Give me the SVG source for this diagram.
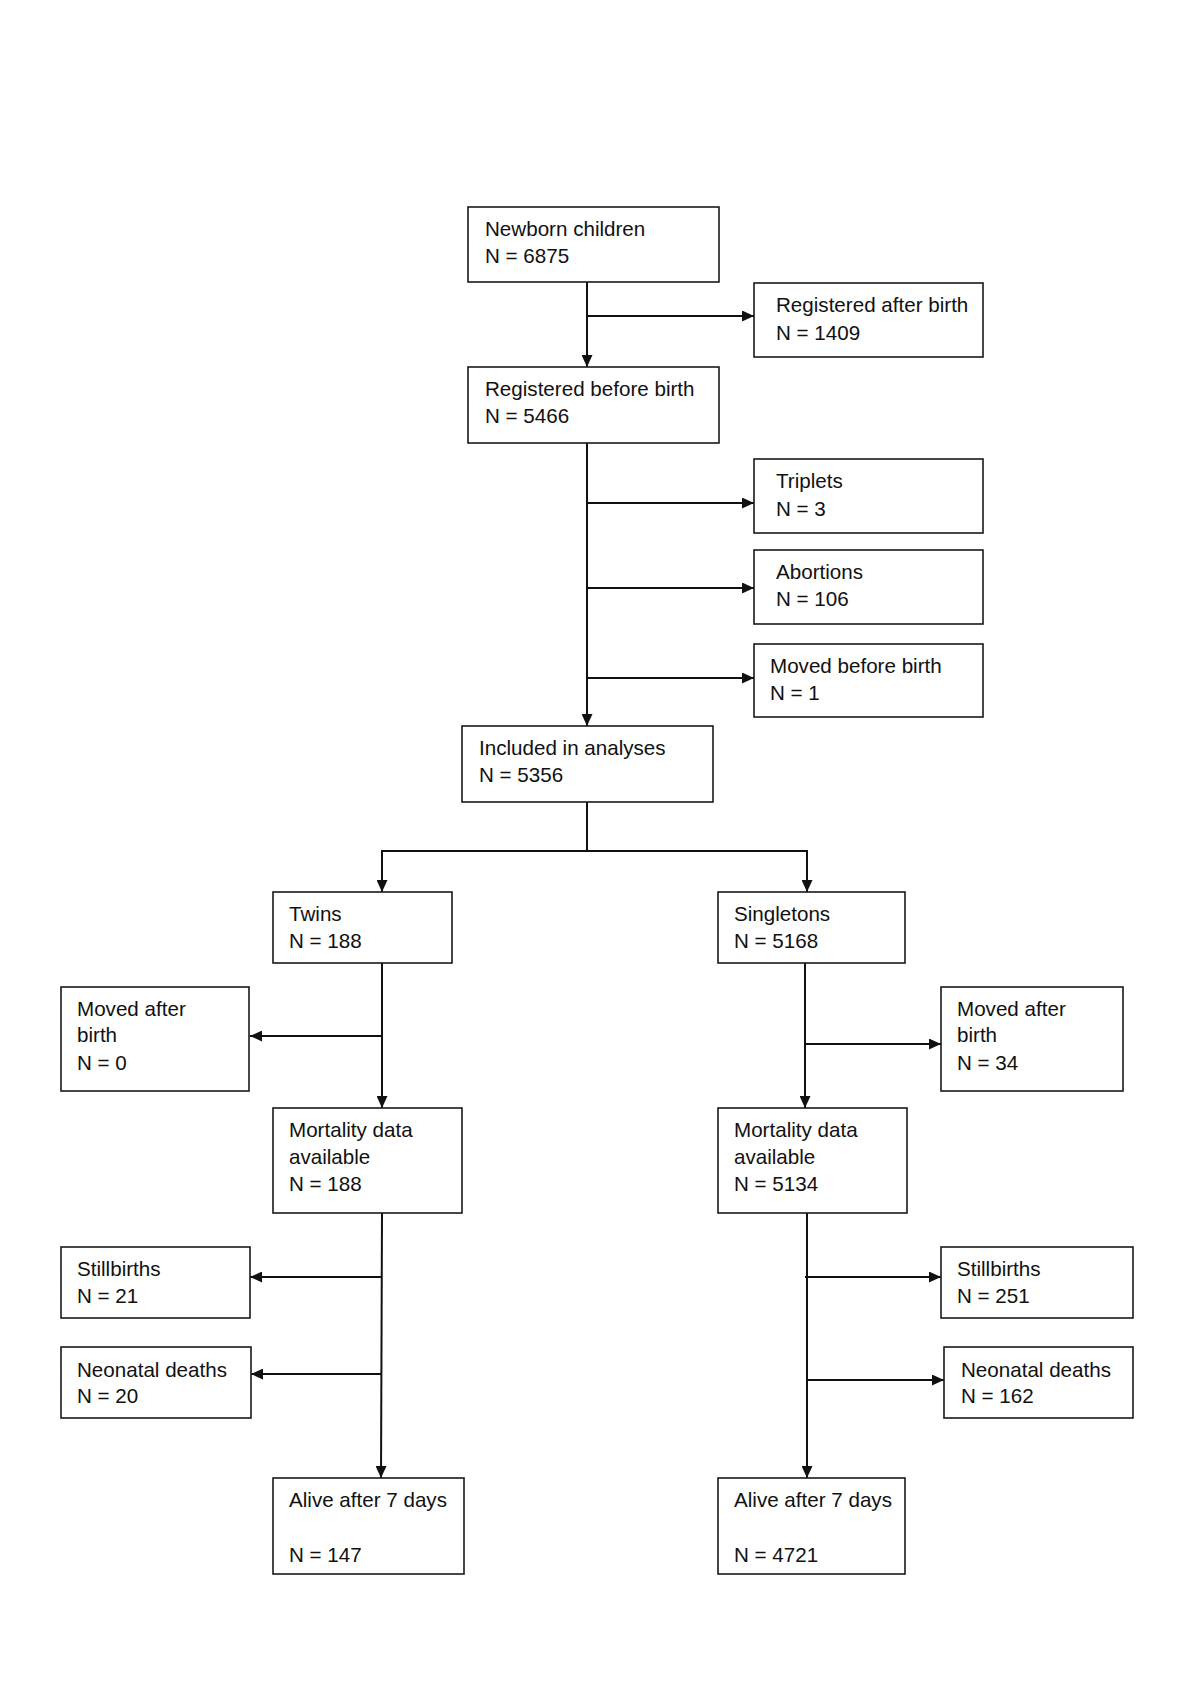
<svg xmlns="http://www.w3.org/2000/svg" width="1200" height="1697" viewBox="0 0 1200 1697">
<style>
.box{fill:#fff;stroke:#1a1a1a;stroke-width:1.6}
.t{font-family:"Liberation Sans",Arial,sans-serif;font-size:20.6px;fill:#111}
.c{fill:none;stroke:#111;stroke-width:2}
</style>
<defs>
<marker id="ah" viewBox="0 0 12 11" refX="12" refY="5.5" markerWidth="12" markerHeight="11" markerUnits="userSpaceOnUse" orient="auto">
<path d="M0,0 L12,5.5 L0,11 z" fill="#111"/>
</marker>
</defs>
<rect width="1200" height="1697" fill="#fff"/>
<g id="connectors">
<path class="c" d="M587,282 V367" marker-end="url(#ah)"/>
<path class="c" d="M587,316 H754" marker-end="url(#ah)"/>
<path class="c" d="M587,443 V726" marker-end="url(#ah)"/>
<path class="c" d="M587,503 H754" marker-end="url(#ah)"/>
<path class="c" d="M587,588 H754" marker-end="url(#ah)"/>
<path class="c" d="M587,678 H754" marker-end="url(#ah)"/>
<path class="c" d="M587,802 V851"/>
<path class="c" d="M382,851 H807"/>
<path class="c" d="M382,850 V892" marker-end="url(#ah)"/>
<path class="c" d="M807,850 V892" marker-end="url(#ah)"/>
<path class="c" d="M382,963 V1108" marker-end="url(#ah)"/>
<path class="c" d="M381,1036 H250" marker-end="url(#ah)"/>
<path class="c" d="M805,963 V1108" marker-end="url(#ah)"/>
<path class="c" d="M805,1044 H941" marker-end="url(#ah)"/>
<path class="c" d="M382,1213 L381,1478" marker-end="url(#ah)"/>
<path class="c" d="M382,1277 H250" marker-end="url(#ah)"/>
<path class="c" d="M381,1374 H251" marker-end="url(#ah)"/>
<path class="c" d="M807,1213 V1478" marker-end="url(#ah)"/>
<path class="c" d="M805,1277 H941" marker-end="url(#ah)"/>
<path class="c" d="M807,1380 H944" marker-end="url(#ah)"/>
</g>
<g id="newborn"><rect class="box" x="468" y="207" width="251" height="75"/><text class="t" x="485" y="236">Newborn children</text><text class="t" x="485" y="263">N = 6875</text></g>
<g id="reg-after"><rect class="box" x="754" y="283" width="229" height="74"/><text class="t" x="776" y="312">Registered after birth</text><text class="t" x="776" y="340">N = 1409</text></g>
<g id="reg-before"><rect class="box" x="468" y="367" width="251" height="76"/><text class="t" x="485" y="396">Registered before birth</text><text class="t" x="485" y="423">N = 5466</text></g>
<g id="triplets"><rect class="box" x="754" y="459" width="229" height="74"/><text class="t" x="776" y="488">Triplets</text><text class="t" x="776" y="516">N = 3</text></g>
<g id="abortions"><rect class="box" x="754" y="550" width="229" height="74"/><text class="t" x="776" y="579">Abortions</text><text class="t" x="776" y="606">N = 106</text></g>
<g id="moved-before"><rect class="box" x="754" y="644" width="229" height="73"/><text class="t" x="770" y="673">Moved before birth</text><text class="t" x="770" y="700">N = 1</text></g>
<g id="included"><rect class="box" x="462" y="726" width="251" height="76"/><text class="t" x="479" y="755">Included in analyses</text><text class="t" x="479" y="782">N = 5356</text></g>
<g id="twins"><rect class="box" x="273" y="892" width="179" height="71"/><text class="t" x="289" y="921">Twins</text><text class="t" x="289" y="948">N = 188</text></g>
<g id="singletons"><rect class="box" x="718" y="892" width="187" height="71"/><text class="t" x="734" y="921">Singletons</text><text class="t" x="734" y="948">N = 5168</text></g>
<g id="moved-after-twins"><rect class="box" x="61" y="987" width="188" height="104"/><text class="t" x="77" y="1016">Moved after</text><text class="t" x="77" y="1042">birth</text><text class="t" x="77" y="1070">N = 0</text></g>
<g id="moved-after-singletons"><rect class="box" x="941" y="987" width="182" height="104"/><text class="t" x="957" y="1016">Moved after</text><text class="t" x="957" y="1042">birth</text><text class="t" x="957" y="1070">N = 34</text></g>
<g id="mortality-twins"><rect class="box" x="273" y="1108" width="189" height="105"/><text class="t" x="289" y="1137">Mortality data</text><text class="t" x="289" y="1164">available</text><text class="t" x="289" y="1191">N = 188</text></g>
<g id="mortality-singletons"><rect class="box" x="718" y="1108" width="189" height="105"/><text class="t" x="734" y="1137">Mortality data</text><text class="t" x="734" y="1164">available</text><text class="t" x="734" y="1191">N = 5134</text></g>
<g id="stillbirths-twins"><rect class="box" x="61" y="1247" width="189" height="71"/><text class="t" x="77" y="1276">Stillbirths</text><text class="t" x="77" y="1303">N = 21</text></g>
<g id="stillbirths-singletons"><rect class="box" x="941" y="1247" width="192" height="71"/><text class="t" x="957" y="1276">Stillbirths</text><text class="t" x="957" y="1303">N = 251</text></g>
<g id="neonatal-twins"><rect class="box" x="61" y="1347" width="190" height="71"/><text class="t" x="77" y="1377">Neonatal deaths</text><text class="t" x="77" y="1403">N = 20</text></g>
<g id="neonatal-singletons"><rect class="box" x="944" y="1347" width="189" height="71"/><text class="t" x="961" y="1377">Neonatal deaths</text><text class="t" x="961" y="1403">N = 162</text></g>
<g id="alive-twins"><rect class="box" x="273" y="1478" width="191" height="96"/><text class="t" x="289" y="1507">Alive after 7 days</text><text class="t" x="289" y="1562">N = 147</text></g>
<g id="alive-singletons"><rect class="box" x="718" y="1478" width="187" height="96"/><text class="t" x="734" y="1507">Alive after 7 days</text><text class="t" x="734" y="1562">N = 4721</text></g>
</svg>
